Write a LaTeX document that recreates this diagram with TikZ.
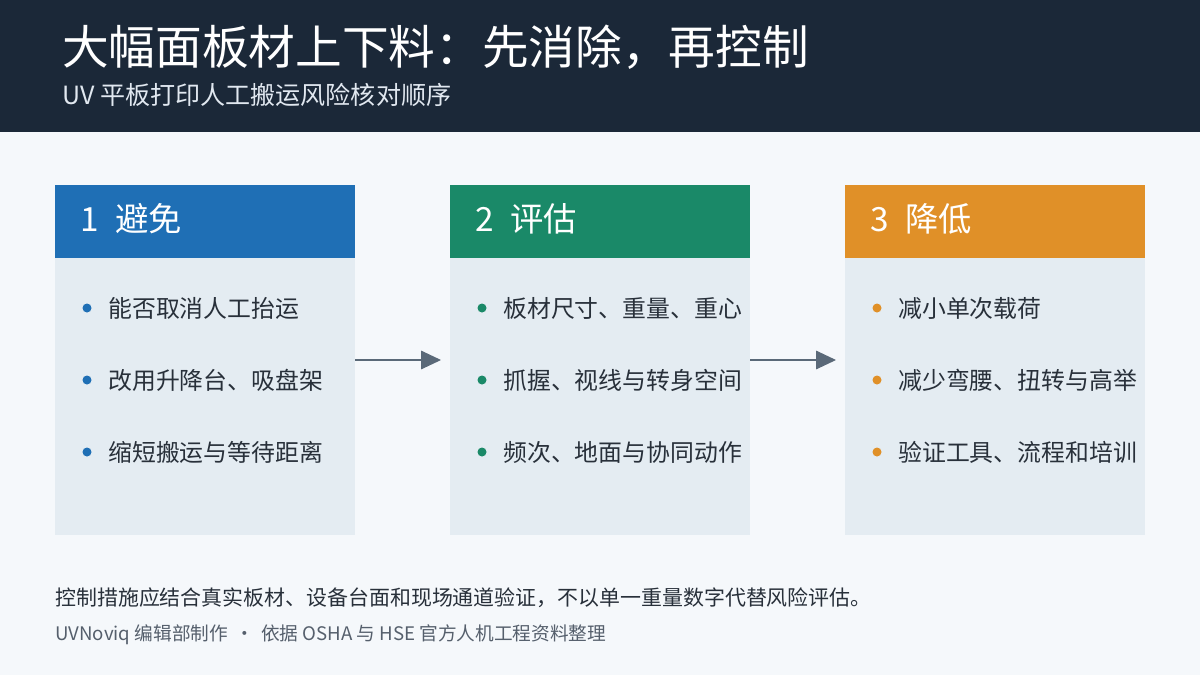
\documentclass[tikz,border=0pt]{standalone}
\usepackage{fontspec}
\setmainfont{Noto Sans CJK SC}
\usetikzlibrary{arrows.meta}
\definecolor{navy}{RGB}{27,40,56}
\definecolor{cblue}{RGB}{31,111,181}
\definecolor{cgreen}{RGB}{26,137,104}
\definecolor{corange}{RGB}{224,144,40}
\definecolor{cbody}{RGB}{228,236,242}
\definecolor{pagebg}{RGB}{245,248,251}
\definecolor{ink}{RGB}{40,48,58}
\tikzset{
  cardhead/.style={anchor=west,inner sep=0pt,text=white,font=\fontsize{25}{30}\selectfont},
  item/.style={anchor=west,inner sep=0pt,text=ink,font=\fontsize{17.9}{22}\selectfont},
  flowarrow/.style={-{Triangle[length=15pt,width=14pt]},draw={rgb,255:red,90;green,105;blue,120},line width=0.8pt}
}
\begin{document}
\begin{tikzpicture}[x=0.75pt,y=0.75pt,yscale=-1,xscale=1]
\useasboundingbox (0,0) rectangle (1200,675);
% background and header band
\fill[pagebg] (0,0) rectangle (1200,675);
\fill[navy] (0,0) rectangle (1200,132);
\node (title) [anchor=west,inner sep=0pt,text=white,font=\fontsize{35}{42}\selectfont] at (62,47) {大幅面板材上下料：先消除，再控制};
\node (subtitle) [anchor=west,inner sep=0pt,text={rgb,255:red,225;green,232;blue,240},font=\fontsize{18.8}{22}\selectfont] at (62,95) {UV 平板打印人工搬运风险核对顺序};
% cards
\foreach \x/\col/\head/\a/\b/\c in {
  55/cblue/{1\hspace{0.5em}避免}/能否取消人工抬运/改用升降台、吸盘架/缩短搬运与等待距离,
  450/cgreen/{2\hspace{0.5em}评估}/板材尺寸、重量、重心/抓握、视线与转身空间/频次、地面与协同动作,
  845/corange/{3\hspace{0.5em}降低}/减小单次载荷/减少弯腰、扭转与高举/验证工具、流程和培训}{
  \fill[cbody] (\x,258) rectangle ++(300,277);
  \fill[\col] (\x,185) rectangle ++(300,73);
  \node[cardhead] at (\x+25,219) {\head};
  \foreach \t [count=\i] in {\a,\b,\c}{
    \fill[\col] (\x+32,236+72*\i) circle (4.5);
    \node[item] at (\x+53,236+72*\i) {\t};
  }
}
% arrows between cards
\coordinate (a1) at (355,360);
\coordinate (b1) at (441,360);
\coordinate (a2) at (750,360);
\coordinate (b2) at (836,360);
\draw[flowarrow] (a1) -- (b1);
\draw[flowarrow] (a2) -- (b2);
% footer
\node (note) [anchor=west,inner sep=0pt,text=ink,font=\fontsize{15.7}{19}\selectfont] at (55,598) {控制措施应结合真实板材、设备台面和现场通道验证，不以单一重量数字代替风险评估。};
\node (credit) [anchor=west,inner sep=0pt,text={rgb,255:red,85;green,95;blue,108},font=\fontsize{14}{17}\selectfont] at (55,635) {UVNoviq 编辑部制作 \,·\, 依据 OSHA 与 HSE 官方人机工程资料整理};
\end{tikzpicture}
\end{document}
